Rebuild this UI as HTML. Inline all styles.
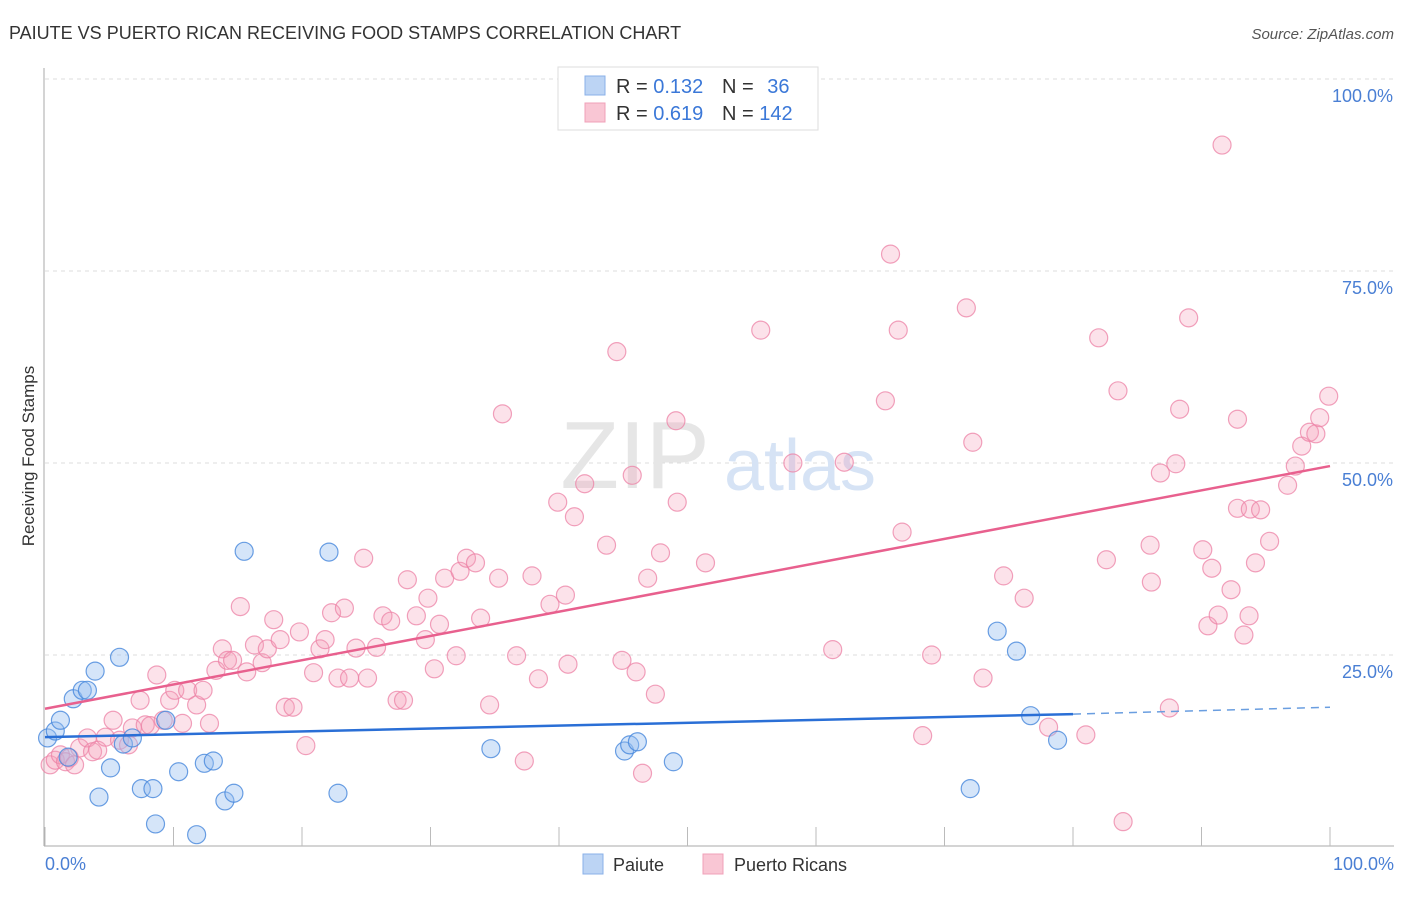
<!DOCTYPE html>
<html><head><meta charset="utf-8"><style>
body{margin:0;background:#fff;font-family:"Liberation Sans",sans-serif;}
svg text{font-family:"Liberation Sans",sans-serif;}
</style></head><body>
<svg id="chart" width="1406" height="892" viewBox="0 0 1406 892">
<text x="9" y="39" font-size="18" fill="#333">PAIUTE VS PUERTO RICAN RECEIVING FOOD STAMPS CORRELATION CHART</text>
<text x="1394" y="39" font-size="15" fill="#555" font-style="italic" text-anchor="end">Source: ZipAtlas.com</text>
<g id="grid"></g>
<text x="635" y="488" font-size="96" fill="#e6e6e6" font-family="Liberation Serif" text-anchor="middle">ZIP</text>
<text x="800" y="490" font-size="72" fill="#d6e3f5" text-anchor="middle">atlas</text>
<g id="axes"></g>
<g id="pts"></g>
<g id="trends"></g>
<text transform="translate(34,456) rotate(-90)" font-size="17" fill="#333" text-anchor="middle">Receiving Food Stamps</text>
<text x="45" y="870" font-size="18" fill="#4a7fd4">0.0%</text>
<text x="1394" y="870" font-size="18" fill="#4a7fd4" text-anchor="end">100.0%</text>
<g>
<rect x="558" y="67" width="260" height="63" fill="#fff" stroke="#ddd"/>
<rect x="585" y="76" width="20" height="19" fill="#bcd4f4" stroke="#8ab0e8"/>
<rect x="585" y="103" width="20" height="19" fill="#f9c6d4" stroke="#f0a0b8"/>
<text x="616" y="93" font-size="20" fill="#333">R = <tspan fill="#3b78d8">0.132</tspan></text>
<text x="722" y="93" font-size="20" fill="#333">N = <tspan fill="#3b78d8" dx="8">36</tspan></text>
<text x="616" y="120" font-size="20" fill="#333">R = <tspan fill="#3b78d8">0.619</tspan></text>
<text x="722" y="120" font-size="20" fill="#333">N = <tspan fill="#3b78d8">142</tspan></text>
</g>
<g>
<rect x="583" y="854" width="20" height="20" fill="#bcd4f4" stroke="#8ab0e8"/>
<text x="613" y="871" font-size="18" fill="#333">Paiute</text>
<rect x="703" y="854" width="20" height="20" fill="#f9c6d4" stroke="#f0a0b8"/>
<text x="734" y="871" font-size="18" fill="#333">Puerto Ricans</text>
</g>
</svg>
<script>
const yTicks=[25,50,75,100];
const yTickLabels=["25.0%","50.0%","75.0%","100.0%"];
const xTicks=[0,10,20,30,40,50,60,70,80,90,100];
const blueX=[0.2,0.8,1.2,2.2,2.9,3.3,3.9,5.8,1.8,5.1,4.2,6.1,6.8,7.5,8.4,8.6,9.4,10.4,11.8,12.4,13.1,14.0,14.7,15.5,22.1,22.8,34.7,45.1,45.5,46.1,48.9,72.0,74.1,75.6,76.7,78.8];
const blueY=[14.2,15.1,16.5,19.3,20.4,20.4,22.9,24.7,11.7,10.3,6.5,13.4,14.2,7.6,7.6,3.0,16.5,9.8,1.6,10.9,11.2,6.0,7.0,38.5,38.4,7.0,12.8,12.5,13.3,13.7,11.1,7.6,28.1,25.5,17.1,13.9];
const pinkX=[0.4,0.8,1.2,1.6,1.9,2.3,2.7,3.3,3.7,4.1,4.7,5.3,5.8,6.5,6.8,7.4,7.8,8.2,8.7,9.2,9.7,10.1,10.7,11.1,11.8,12.3,12.8,13.3,13.8,14.2,14.6,15.2,15.7,16.3,16.9,17.3,17.8,18.3,18.7,19.3,19.8,20.3,20.9,21.4,21.8,22.3,22.8,23.3,23.7,24.2,24.8,25.1,25.8,26.3,26.9,27.4,27.9,28.2,28.9,29.6,29.8,30.3,30.7,31.1,32.0,32.3,32.8,33.5,33.9,34.6,35.3,35.6,36.7,37.3,37.9,38.4,39.3,39.9,40.5,40.7,41.2,42.0,43.7,44.5,44.9,45.7,46.0,46.5,46.9,47.5,47.9,49.1,49.2,51.4,55.7,58.2,61.3,62.2,65.4,65.8,66.4,66.7,68.3,69.0,71.7,72.2,73.0,74.6,76.2,78.1,81.0,82.0,82.6,83.5,83.9,86.0,86.1,86.8,87.5,88.0,88.3,89.0,90.1,90.5,90.8,91.3,91.6,92.3,92.8,92.8,93.3,93.8,93.7,94.2,94.6,95.3,96.7,97.3,97.8,98.4,98.9,99.2,99.9];
const pinkY=[10.7,11.3,12.0,11.1,11.6,10.7,12.9,14.2,12.4,12.6,14.3,16.5,13.9,13.3,15.5,19.1,15.9,15.8,22.4,16.5,19.1,20.4,16.1,20.4,18.5,20.4,16.1,23.0,25.8,24.3,24.3,31.3,22.8,26.3,24.0,25.8,29.6,27.0,18.2,18.2,28.0,13.2,22.7,25.8,27.0,30.5,22.0,31.1,22.0,25.9,37.6,22.0,26.0,30.1,29.4,19.1,19.1,34.8,30.1,27.0,32.4,23.2,29.0,35.0,24.9,35.9,37.6,37.0,29.8,18.5,35.0,56.4,24.9,11.2,35.3,21.9,31.6,44.9,32.8,23.8,43.0,47.3,39.3,64.5,24.3,48.4,22.8,9.6,35.0,19.9,38.3,55.5,44.9,37.0,67.3,50.0,25.7,50.1,58.1,77.2,67.3,41.0,14.5,25.0,70.2,52.7,22.0,35.3,32.4,15.6,14.6,66.3,37.4,59.4,3.3,39.3,34.5,48.7,18.1,49.9,57.0,68.9,38.7,28.8,36.3,30.2,91.4,33.5,55.7,44.1,27.6,44.0,30.1,37.0,43.9,39.8,47.1,49.6,52.2,54.0,53.8,55.9,58.7];
const blueTrend=[14.3,17.3,18.2]; // y at x=0, x=80, x=100
const pinkTrend=[18.0,49.6]; // y at x=0, x=100
const NS='http://www.w3.org/2000/svg';
const X=v=>45+v*12.85;
const Y=v=>847-v*7.68;
function mk(tag,attrs,parent){const e=document.createElementNS(NS,tag);for(const k in attrs)e.setAttribute(k,attrs[k]);parent.appendChild(e);return e;}
const grid=document.getElementById('grid'),axes=document.getElementById('axes'),pts=document.getElementById('pts'),tr=document.getElementById('trends');
yTicks.forEach((t,i)=>{
 const l=mk('line',{x1:45,x2:1394,y1:Y(t),y2:Y(t),stroke:'#ddd','stroke-dasharray':'4,4'},grid);
 
 
 const tx=mk('text',{x:1393,y:Y(t)+23,'font-size':18,fill:'#4a7fd4','text-anchor':'end'},grid);
 tx.textContent=yTickLabels[i];
 
 
});
const ya=mk('line',{x1:44,x2:44,y1:68,y2:846,stroke:'#aaa'},axes);


const xa=mk('line',{x1:44,x2:1394,y1:846,y2:846,stroke:'#aaa'},axes);


xTicks.forEach(t=>{
 const l=mk('line',{x1:X(t),x2:X(t),y1:827,y2:846,stroke:'#bbb'},axes);
 
 
});
pinkX.forEach((x,i)=>{
 const c=mk('circle',{cx:X(x),cy:Y(pinkY[i]),r:9,fill:'rgba(244,160,186,0.3)',stroke:'rgba(236,130,165,0.75)','stroke-width':1.2},pts);
 
 
});
blueX.forEach((x,i)=>{
 const c=mk('circle',{cx:X(x),cy:Y(blueY[i]),r:9,fill:'rgba(150,190,240,0.4)',stroke:'rgba(70,135,220,0.8)','stroke-width':1.2},pts);
 
 
});
const pl=mk('line',{x1:X(0),y1:Y(pinkTrend[0]),x2:X(100),y2:Y(pinkTrend[1]),stroke:'#e8608e','stroke-width':2.5},tr);


const bl=mk('line',{x1:X(0),y1:Y(blueTrend[0]),x2:X(80),y2:Y(blueTrend[1]),stroke:'#2a6fd6','stroke-width':2.5},tr);


const bd=mk('line',{x1:X(80),y1:Y(blueTrend[1]),x2:X(100),y2:Y(blueTrend[2]),stroke:'#6a9ee0','stroke-width':1.5,'stroke-dasharray':'8,6'},tr);


</script>
</body></html>
